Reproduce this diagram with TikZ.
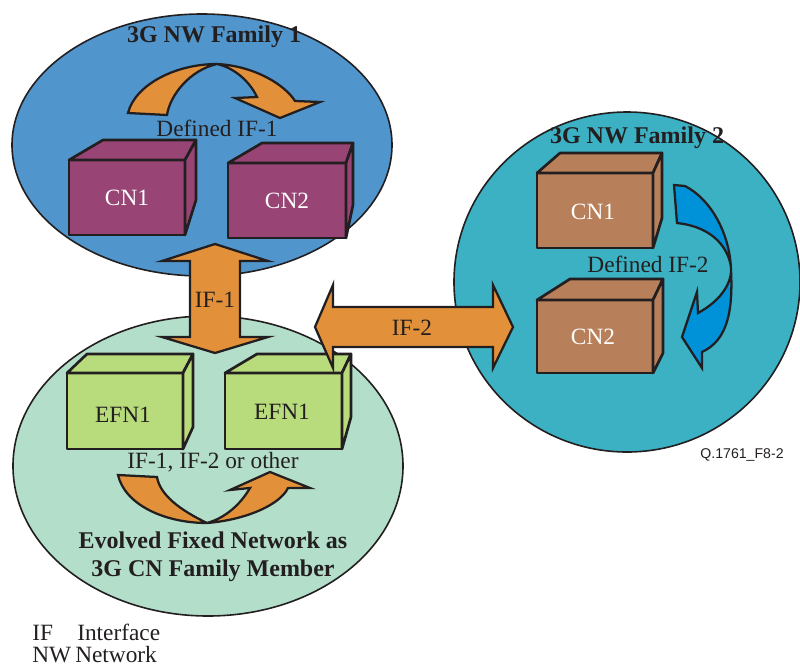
\documentclass[tikz,border=0pt]{standalone}
\usepackage{fontspec}
\setmainfont{Liberation Serif}
\newfontfamily\arialfont{Liberation Sans}
\definecolor{famblue}{HTML}{5096CD}
\definecolor{famteal}{HTML}{3BB1C3}
\definecolor{famgreen}{HTML}{B3DECA}
\definecolor{arrorange}{HTML}{E2913A}
\definecolor{arrblue}{HTML}{0092D8}
\definecolor{cnpurple}{HTML}{984474}
\definecolor{cnbrown}{HTML}{B8805A}
\definecolor{efngreen}{HTML}{B8DB7B}
\definecolor{txtdark}{HTML}{231F20}
\tikzset{
  netell/.style={draw=txtdark, line width=1.2pt},
  cubeface/.style={draw=txtdark, line width=2pt, line join=round},
  fatarrow/.style={draw=txtdark, line width=1.7pt, line join=miter, fill=arrorange},
  lbl/.style={font=\fontsize{17.5}{20}\selectfont, text=txtdark, inner sep=0pt},
  wlbl/.style={font=\fontsize{17.5}{20}\selectfont, text=white, inner sep=0pt},
  title/.style={font=\fontsize{18}{21}\selectfont\bfseries, text=txtdark, inner sep=0pt, align=center},
}
\begin{document}
\begin{tikzpicture}[x=0.75pt, y=-0.75pt]
\useasboundingbox (0,0) rectangle (800,668);
% ellipses
\filldraw[netell, fill=famblue] (202,145) ellipse [x radius=190, y radius=131];
\filldraw[netell, fill=famteal] (627,282) ellipse [x radius=173, y radius=170];
\filldraw[netell, fill=famgreen] (208,466) ellipse [x radius=195, y radius=150];
% cubes family 1
\filldraw[cubeface, fill=cnpurple] (69,160) rectangle (185,235);
\filldraw[cubeface, fill=cnpurple] (69,160) -- (103,140) -- (196,140) -- (185,160) -- cycle;
\filldraw[cubeface, fill=cnpurple] (185,160) -- (196,140) -- (196,200) -- (185,235) -- cycle;
\filldraw[cubeface, fill=cnpurple] (228,163) rectangle (346,238);
\filldraw[cubeface, fill=cnpurple] (228,163) -- (262,143) -- (353,143) -- (346,163) -- cycle;
\filldraw[cubeface, fill=cnpurple] (346,163) -- (353,143) -- (353,205) -- (346,238) -- cycle;
% cubes family 2
\filldraw[cubeface, fill=cnbrown] (537,173) rectangle (653,248);
\filldraw[cubeface, fill=cnbrown] (537,173) -- (560,153) -- (662,153) -- (653,173) -- cycle;
\filldraw[cubeface, fill=cnbrown] (653,173) -- (662,153) -- (662,218) -- (653,248) -- cycle;
\filldraw[cubeface, fill=cnbrown] (537,300) rectangle (653,373);
\filldraw[cubeface, fill=cnbrown] (537,300) -- (570,279) -- (663,279) -- (653,300) -- cycle;
\filldraw[cubeface, fill=cnbrown] (653,300) -- (663,279) -- (663,353) -- (653,373) -- cycle;
% EFN cubes
\filldraw[cubeface, fill=efngreen] (67,373) rectangle (183,449);
\filldraw[cubeface, fill=efngreen] (67,373) -- (87,354) -- (193,354) -- (183,373) -- cycle;
\filldraw[cubeface, fill=efngreen] (183,373) -- (193,354) -- (193,427) -- (183,449) -- cycle;
\filldraw[cubeface, fill=efngreen] (225,373) rectangle (342,449);
\filldraw[cubeface, fill=efngreen] (225,373) -- (257,354) -- (351,354) -- (342,373) -- cycle;
\filldraw[cubeface, fill=efngreen] (342,373) -- (351,354) -- (351,417) -- (342,449) -- cycle;
% curved arrow family 1
\filldraw[fatarrow] (128,113) .. controls (135,85) and (175,64) .. (217,64)
  .. controls (255,66) and (285,85) .. (295,101) -- (320,102) -- (280,118) -- (235,98) -- (257,97)
  .. controls (250,82) and (235,68) .. (217,64)
  .. controls (190,70) and (170,95) .. (167,115) -- cycle;
% curved arrow EFN
\filldraw[fatarrow] (118,475) .. controls (125,505) and (165,523) .. (207,523)
  .. controls (245,520) and (280,505) .. (288,488) -- (310,488) -- (270,472) -- (230,490) -- (250,488)
  .. controls (240,505) and (225,518) .. (207,523)
  .. controls (180,510) and (160,495) .. (157,477) -- cycle;
% blue curved arrow family 2
\filldraw[fatarrow, fill=arrblue] (674,185) -- (685,186)
  .. controls (712,200) and (730,235) .. (731,270)
  .. controls (733,310) and (728,340) .. (702,352) -- (702,368) -- (682,337) -- (697,292) -- (698,313)
  .. controls (722,300) and (735,280) .. (730,262)
  .. controls (724,240) and (705,226) .. (677,223) -- cycle;
% IF-1 double arrow
\filldraw[fatarrow] (215,244) -- (268,261) -- (240,261) -- (240,337) -- (268,337) -- (215,353)
  -- (162,337) -- (190,337) -- (190,261) -- (162,261) -- cycle;
% IF-2 double arrow
\filldraw[fatarrow] (315,327) -- (333,285) -- (333,307) -- (493,307) -- (493,285) -- (513,327)
  -- (493,368) -- (493,347) -- (333,347) -- (333,368) -- cycle;
% texts
\node[title] (t1) at (214,37) {3G NW Family 1};
\node[lbl] (d1) at (217,128) {Defined IF-1};
\node[wlbl] (cn1a) at (127,198) {CN1};
\node[wlbl] (cn2a) at (287,201) {CN2};
\node[lbl] (if1) at (215,300) {IF-1};
\node[lbl] (if2) at (412,328) {IF-2};
\node[title] (t2) at (637,138) {3G NW Family 2};
\node[wlbl] (cn1b) at (593,212) {CN1};
\node[wlbl] (cn2b) at (593,337) {CN2};
\node[lbl] (d2) at (648,264) {Defined IF-2};
\node[lbl] (efna) at (123,415) {EFN1};
\node[lbl] (efnb) at (282,412) {EFN1};
\node[lbl] (ifo) at (213,462) {IF-1, IF-2 or other};
\node[title] (t3) at (213,557) {Evolved Fixed Network as\\3G CN Family Member};
\node[inner sep=0pt, text=txtdark, font=\arialfont\fontsize{10.6}{12}\selectfont] (fig) at (742,455) {Q.1761\_F8-2};
\node[lbl, anchor=base west] (lg1) at (32,640) {IF};
\node[lbl, anchor=base west] (lg2) at (77,640) {Interface};
\node[lbl, anchor=base west] (lg3) at (32,662) {NW};
\node[lbl, anchor=base west] (lg4) at (75,662) {Network};
\end{tikzpicture}
\end{document}
